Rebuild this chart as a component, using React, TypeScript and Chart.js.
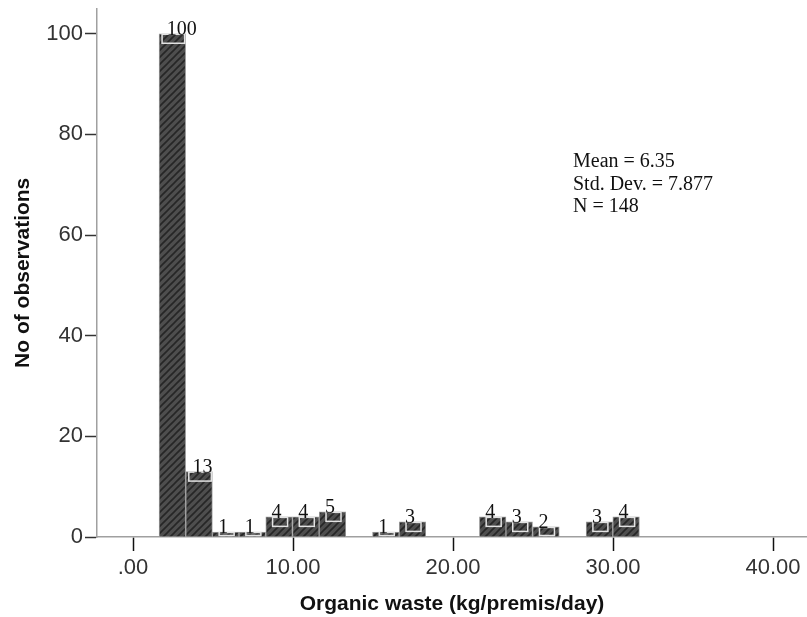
import React, { useEffect, useRef } from "react";
import { Chart, registerables } from "chart.js";

Chart.register(...registerables);

// Histogram bins (centres, kg/premis/day) and observation counts
const binCenters = [2.46, 4.13, 5.79, 7.46, 9.13, 10.8, 12.47, 14.14, 15.8, 17.47, 19.14, 20.81, 22.48, 24.14, 25.81, 27.48, 29.15, 30.82];
const counts = [100, 13, 1, 1, 4, 4, 5, 0, 1, 3, 0, 0, 4, 3, 2, 0, 3, 4];
const xTicks = [0, 10, 20, 30, 40];
const yTicks = [0, 20, 40, 60, 80, 100];
const statsLines = ["Mean = 6.35", "Std. Dev. = 7.877", "N = 148"];
const xTitle = "Organic waste (kg/premis/day)";
const yTitle = "No of observations";

function makeHatch(): CanvasPattern | string {
  const s = 7;
  const c = document.createElement("canvas");
  c.width = s;
  c.height = s;
  const g = c.getContext("2d");
  if (!g) return "#444";
  g.fillStyle = "#4e4e4e";
  g.fillRect(0, 0, s, s);
  g.strokeStyle = "#262626";
  g.lineWidth = 1.6;
  g.beginPath();
  g.moveTo(-1, s + 1);
  g.lineTo(s + 1, -1);
  g.moveTo(-1, 1);
  g.lineTo(1, -1);
  g.moveTo(s - 1, s + 1);
  g.lineTo(s + 1, s - 1);
  g.stroke();
  const p = g.createPattern(c, "repeat");
  return p || "#444";
}

const labelPlugin = {
  id: "histLabels",
  afterDatasetsDraw(chart: any) {
    const ctx = chart.ctx;
    const meta = chart.getDatasetMeta(0);
    ctx.save();
    ctx.font = "20px 'Liberation Serif'";
    ctx.textAlign = "center";
    ctx.textBaseline = "alphabetic";
    meta.data.forEach((bar: any, i: number) => {
      const v = counts[i];
      if (!v) return;
      const txt = String(v);
      const tw = ctx.measureText(txt).width;
      const top = bar.y;
      const bw = bar.width;
      const barH = bar.base - bar.y;
      const boxW = Math.min(tw + 5, bw - 4);
      const boxH = Math.max(2, Math.min(9, barH - 1.5));
      ctx.strokeStyle = "#e2e2e2";
      ctx.lineWidth = 1.5;
      ctx.strokeRect(bar.x - boxW / 2 + 1, top + 0.5, boxW, boxH);
      ctx.fillStyle = "#111";
      ctx.fillText(txt, bar.x + 0.6 * tw - 8.5, top + 1.5);
    });
    // stats box
    const xs = chart.scales.x;
    const ys = chart.scales.y;
    ctx.textAlign = "left";
    ctx.font = "20px 'Liberation Serif'";
    ctx.fillStyle = "#111";
    const x0 = xs.getPixelForValue(27.5);
    const y0 = ys.getPixelForValue(73.5);
    statsLines.forEach((l, k) => ctx.fillText(l, x0, y0 + k * 22.5));
    ctx.restore();
  },
};

export default function App() {
  const ref = useRef<HTMLCanvasElement | null>(null);
  useEffect(() => {
    if (!ref.current) return;
    const hatch = makeHatch();
    const chart = new Chart(ref.current, {
      type: "bar",
      data: {
        datasets: [
          {
            data: binCenters.map((x, i) => ({ x, y: counts[i] === 0 ? null : counts[i] })) as any,
            backgroundColor: hatch as any,
            borderColor: "#9a9a9a",
            borderWidth: 1,
            categoryPercentage: 1,
            barPercentage: 1,
          },
        ],
      },
      options: {
        animation: false,
        responsive: false,
        layout: { padding: { top: 7, right: 0, left: 0, bottom: 0 } },
        plugins: { legend: { display: false }, tooltip: { enabled: false } },
        scales: {
          x: {
            type: "linear",
            offset: false,
            min: -2.25,
            max: 42.125,
            afterBuildTicks: (s: any) => {
              s.ticks = xTicks.map((v) => ({ value: v }));
            },
            afterFit: (s: any) => {
              s.height = 80;
            },
            ticks: {
              callback: (v: any) => (Number(v) === 0 ? ".00" : Number(v).toFixed(2)),
              font: { family: "'Liberation Sans'", size: 22 },
              color: "#333",
              padding: 4,
              maxRotation: 0,
              autoSkip: false,
            },
            grid: { offset: false, drawOnChartArea: false, drawTicks: true, tickLength: 14, tickColor: "#111", tickWidth: 1.5 },
            border: { color: "#a0a0a0", width: 1.5 },
            title: {
              display: true,
              text: xTitle,
              font: { family: "'Liberation Sans'", size: 21, weight: "bold" },
              color: "#111",
              padding: { top: 0, bottom: 0 },
            },
          },
          y: {
            min: 0,
            max: 105,
            afterBuildTicks: (s: any) => {
              s.ticks = yTicks.map((v) => ({ value: v }));
            },
            afterFit: (s: any) => {
              s.width = 97;
            },
            ticks: {
              font: { family: "'Liberation Sans'", size: 22, lineHeight: 0.6 },
              color: "#333",
              padding: 2,
            },
            grid: { drawOnChartArea: false, drawTicks: true, tickLength: 12, tickColor: "#333", tickWidth: 1.5 },
            border: { color: "#a0a0a0", width: 1.5 },
            title: {
              display: true,
              text: yTitle,
              font: { family: "'Liberation Sans'", size: 21, weight: "bold" },
              color: "#111",
              padding: { top: 11, bottom: 0 },
            },
          },
        },
      },
      plugins: [labelPlugin],
    });
    return () => chart.destroy();
  }, []);
  return (
    <div style={{ position: "fixed", left: 0, top: 0, width: 807, height: 617, background: "#fff" }}>
      <canvas ref={ref} width={807} height={617} style={{ display: "block" }} />
    </div>
  );
}
